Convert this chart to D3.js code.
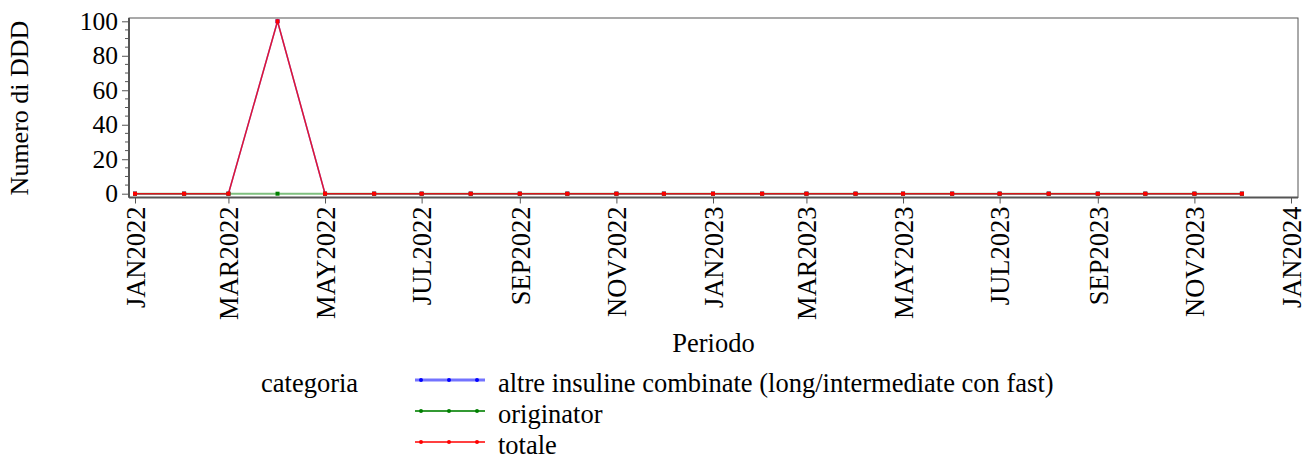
<!DOCTYPE html>
<html><head><meta charset="utf-8">
<script src="https://cdn.jsdelivr.net/npm/d3@7"></script>
</head><body style="margin:0;background:#fff">
<script>
const months = ["2022-01","2022-02","2022-03","2022-04","2022-05","2022-06","2022-07","2022-08","2022-09","2022-10","2022-11","2022-12",
"2023-01","2023-02","2023-03","2023-04","2023-05","2023-06","2023-07","2023-08","2023-09","2023-10","2023-11","2023-12"];
const altreValues = [0,0,0,100,0,0,0,0,0,0,0,0,0,0,0,0,0,0,0,0,0,0,0,0];
const originatorValues = [0,0,0,0,0,0,0,0,0,0,0,0,0,0,0,0,0,0,0,0,0,0,0,0];
const totaleValues = [0,0,0,100,0,0,0,0,0,0,0,0,0,0,0,0,0,0,0,0,0,0,0,0];
const seriesNames = ["altre insuline combinate (long/intermediate con fast)","originator","totale"];
const xTickLabels = ["JAN2022","MAR2022","MAY2022","JUL2022","SEP2022","NOV2022","JAN2023","MAR2023","MAY2023","JUL2023","SEP2023","NOV2023","JAN2024"];
const yTicks = [0,20,40,60,80,100];

const FONT='"Liberation Serif"';
const W=1313,H=459;
const svg=d3.select("body").append("svg").attr("width",W).attr("height",H).style("display","block");
const parse=d3.timeParse("%Y-%m");
const tickParse=d3.timeParse("%b%Y");
const x=d3.scaleTime().domain([parse("2022-01"),parse("2024-01")]).range([135,1291]);
const y=d3.scaleLinear().domain([0,100]).range([193.7,21.3]);
const L=129,R=1298,T=18,B=197.5;

svg.append("rect").attr("x",L).attr("y",T).attr("width",R-L).attr("height",B-T)
  .attr("fill","none").attr("stroke","#555").attr("stroke-width",1);

const yAx=svg.append("g").attr("transform",`translate(${L},0)`)
  .call(d3.axisLeft(y).tickValues(yTicks).tickSize(7).tickPadding(4).tickFormat(d3.format("d")));
yAx.select(".domain").attr("stroke","#555").attr("stroke-width",2).attr("d",`M0,${T}V${B}`);
yAx.selectAll(".tick line").attr("stroke","#555");
yAx.selectAll("text").style("font-family",FONT).style("font-size","25.5px").attr("fill","#000");
const yMinor=d3.range(0,101,5).filter(v=>v%20!==0);
svg.append("g").attr("transform",`translate(${L},0)`).selectAll("line").data(yMinor).join("line")
  .attr("x1",-4).attr("x2",0).attr("y1",d=>y(d)).attr("y2",d=>y(d)).attr("stroke","#555");

const xTickDates=xTickLabels.map(s=>tickParse(s));
const xAx=svg.append("g").attr("transform",`translate(0,${B})`)
  .call(d3.axisBottom(x).tickValues(xTickDates).tickSize(6).tickFormat((d,i)=>xTickLabels[i]));
xAx.select(".domain").attr("stroke","#555").attr("stroke-width",2).attr("d",`M${L},0H${R}`);
xAx.selectAll(".tick line").attr("stroke","#555");
xAx.selectAll("text").style("font-family",FONT).style("font-size","26.5px").attr("fill","#000")
  .attr("transform","rotate(-90)").attr("text-anchor","end").attr("x",-9).attr("y",0).attr("dy","0.35em");

svg.append("text").attr("x",(L+R)/2).attr("y",352).attr("text-anchor","middle")
  .style("font-family",FONT).style("font-size","26.5px").text("Periodo");
svg.append("text").attr("transform","translate(28,108) rotate(-90)").attr("text-anchor","middle")
  .style("font-family",FONT).style("font-size","26px").text("Numero di DDD");

const styles=[{c:"#0000ff",w:1.5,o:0.6},{c:"#008000",w:2,o:0.5},{c:"#ff0000",w:1.5,o:0.8}];
const allVals=[altreValues,originatorValues,totaleValues];
const line=d3.line().x(d=>x(d.date)).y(d=>y(d.v));
allVals.forEach((vals,i)=>{
  const data=months.map((m,j)=>({date:parse(m),v:vals[j]}));
  const g=svg.append("g");
  g.append("path").datum(data).attr("d",line).attr("fill","none")
    .attr("stroke",styles[i].c).attr("stroke-width",styles[i].w).attr("stroke-opacity",styles[i].o);
  g.selectAll("rect").data(data).join("rect")
    .attr("x",d=>x(d.date)-2).attr("y",d=>y(d.v)-2).attr("width",4).attr("height",4).attr("fill",styles[i].c);
});

svg.append("text").attr("x",261).attr("y",392).style("font-family",FONT).style("font-size","26.5px").text("categoria");
const legY=[380,411,442];
const legStyles=[{c:"#0000ff",w:3,o:0.55},{c:"#008000",w:2,o:0.8},{c:"#ff0000",w:1.5,o:1}];
seriesNames.forEach((n,i)=>{
  const g=svg.append("g");
  g.append("line").attr("x1",415).attr("x2",485).attr("y1",legY[i]).attr("y2",legY[i])
    .attr("stroke",legStyles[i].c).attr("stroke-width",legStyles[i].w).attr("stroke-opacity",legStyles[i].o);
  [421,449,477].forEach(px=>g.append("circle").attr("cx",px).attr("cy",legY[i]).attr("r",2).attr("fill",legStyles[i].c));
  g.append("text").attr("x",498).attr("y",legY[i]+12).style("font-family",FONT).style("font-size","26.5px").text(n);
});
</script>
</body></html>
